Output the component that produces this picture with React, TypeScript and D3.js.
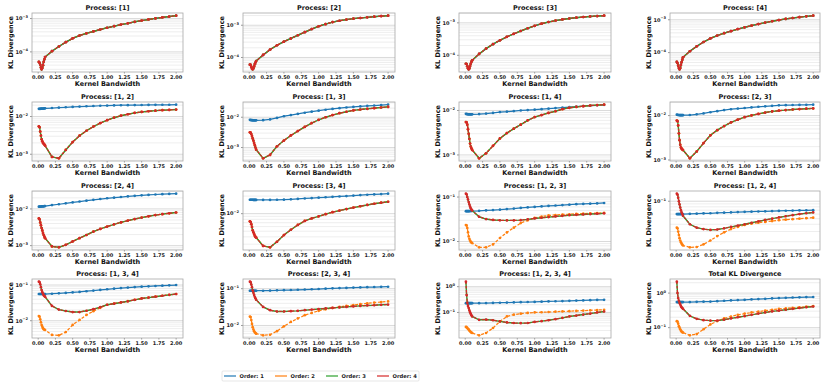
import React, { useEffect, useRef } from "react";
import * as d3 from "d3";

// kernel bandwidths used on every panel
const bandwidths = [0.01, 0.02, 0.03, 0.04, 0.05, 0.06, 0.07, 0.08, 0.09, 0.1, 0.2, 0.3, 0.4, 0.5, 0.6, 0.7, 0.8, 0.9, 1.0, 1.1, 1.2, 1.3, 1.4, 1.5, 1.6, 1.7, 1.8, 1.9, 2.0];
const xTicks = [0, 0.25, 0.5, 0.75, 1.0, 1.25, 1.5, 1.75, 2.0];

const orderLabels = ["Order: 1", "Order: 2", "Order: 3", "Order: 4"];
const orderColors = ["#1f77b4", "#ff7f0e", "#2ca02c", "#d62728"];
const orderDash = [null, "3,1.6", null, "2.6,1.6"];

const panelTitles = [
  "Process: [1]", "Process: [2]", "Process: [3]", "Process: [4]",
  "Process: [1, 2]", "Process: [1, 3]", "Process: [1, 4]", "Process: [2, 3]",
  "Process: [2, 4]", "Process: [3, 4]", "Process: [1, 2, 3]", "Process: [1, 2, 4]",
  "Process: [1, 3, 4]", "Process: [2, 3, 4]", "Process: [1, 2, 3, 4]", "Total KL Divergence",
];

// single processes (all orders coincide)
const klP1 = [5e-5, 4.7e-5, 4.1e-5, 3.4e-5, 3e-5, 3.3e-5, 4e-5, 5e-5, 6e-5, 7e-5, 1.05e-4, 1.45e-4, 1.95e-4, 2.55e-4, 3.1e-4, 3.6e-4, 4.1e-4, 4.7e-4, 5.3e-4, 5.9e-4, 6.6e-4, 7.2e-4, 8e-4, 8.7e-4, 9.4e-4, 1.01e-3, 1.08e-3, 1.15e-3, 1.22e-3];
const klP2 = [6e-5, 5.9e-5, 5.1e-5, 4.5e-5, 4.3e-5, 4.6e-5, 5.3e-5, 6.2e-5, 7e-5, 7.8e-5, 1.2e-4, 1.75e-4, 2.4e-4, 3.1e-4, 3.9e-4, 4.9e-4, 6.1e-4, 7.6e-4, 9.3e-4, 1.08e-3, 1.25e-3, 1.38e-3, 1.5e-3, 1.6e-3, 1.68e-3, 1.76e-3, 1.84e-3, 1.92e-3, 1.98e-3];
const klP3 = [5.5e-5, 5.4e-5, 4.6e-5, 4e-5, 3.7e-5, 4e-5, 4.7e-5, 5.5e-5, 6.3e-5, 7e-5, 1.1e-4, 1.6e-4, 2.2e-4, 2.9e-4, 3.7e-4, 4.6e-4, 5.6e-4, 6.8e-4, 8.1e-4, 9.4e-4, 1.06e-3, 1.17e-3, 1.27e-3, 1.36e-3, 1.44e-3, 1.51e-3, 1.57e-3, 1.62e-3, 1.66e-3];
const klP4 = [5.2e-5, 4.8e-5, 4e-5, 3.4e-5, 3.1e-5, 3.4e-5, 4.2e-5, 5.1e-5, 6.1e-5, 7.2e-5, 1.1e-4, 1.55e-4, 2.1e-4, 2.7e-4, 3.3e-4, 3.9e-4, 4.5e-4, 5.2e-4, 5.9e-4, 6.6e-4, 7.4e-4, 8.2e-4, 9e-4, 9.8e-4, 1.06e-3, 1.13e-3, 1.2e-3, 1.27e-3, 1.33e-3];

// pairs: order 1 and order 2+ (orders 2, 3, 4 coincide)
const klP12o1 = [1.6e-2, 1.6e-2, 1.6e-2, 1.61e-2, 1.61e-2, 1.62e-2, 1.62e-2, 1.63e-2, 1.64e-2, 1.65e-2, 1.68e-2, 1.72e-2, 1.76e-2, 1.8e-2, 1.84e-2, 1.87e-2, 1.9e-2, 1.93e-2, 1.95e-2, 1.97e-2, 1.99e-2, 2e-2, 2.01e-2, 2.02e-2, 2.03e-2, 2.04e-2, 2.05e-2, 2.05e-2, 2.06e-2];
const klP12o2 = [5.5e-3, 5.2e-3, 4e-3, 3.1e-3, 2.5e-3, 2.2e-3, 2e-3, 1.9e-3, 1.8e-3, 1.7e-3, 8.5e-4, 7.8e-4, 1.3e-3, 2.1e-3, 3.1e-3, 4.2e-3, 5.4e-3, 6.7e-3, 8e-3, 9.3e-3, 1.05e-2, 1.15e-2, 1.25e-2, 1.32e-2, 1.38e-2, 1.43e-2, 1.47e-2, 1.5e-2, 1.53e-2];
const klP13o1 = [8.2e-3, 8.1e-3, 8e-3, 8e-3, 7.9e-3, 7.9e-3, 7.9e-3, 7.9e-3, 7.9e-3, 7.9e-3, 8e-3, 8.5e-3, 9.5e-3, 1.08e-2, 1.18e-2, 1.29e-2, 1.41e-2, 1.53e-2, 1.65e-2, 1.77e-2, 1.89e-2, 2e-2, 2.1e-2, 2.2e-2, 2.28e-2, 2.36e-2, 2.44e-2, 2.52e-2, 2.6e-2];
const klP13o2 = [3.2e-3, 3.1e-3, 2.8e-3, 2.4e-3, 2e-3, 1.7e-3, 1.4e-3, 1.2e-3, 1e-3, 8.5e-4, 4.4e-4, 5.7e-4, 1.1e-3, 1.7e-3, 2.5e-3, 3.5e-3, 4.8e-3, 6.4e-3, 8.2e-3, 1e-2, 1.18e-2, 1.36e-2, 1.52e-2, 1.68e-2, 1.8e-2, 1.9e-2, 2e-2, 2.1e-2, 2.2e-2];
const klP14o1 = [8.4e-3, 8.3e-3, 8.3e-3, 8.2e-3, 8.2e-3, 8.2e-3, 8.2e-3, 8.2e-3, 8.2e-3, 8.2e-3, 8.3e-3, 8.5e-3, 8.8e-3, 9.2e-3, 9.4e-3, 9.7e-3, 1e-2, 1.02e-2, 1.04e-2, 1.07e-2, 1.1e-2, 1.13e-2, 1.16e-2, 1.19e-2, 1.22e-2, 1.25e-2, 1.28e-2, 1.31e-2, 1.34e-2];
const klP14o2 = [5.5e-3, 5.4e-3, 4.8e-3, 3.8e-3, 3e-3, 2.3e-3, 1.8e-3, 1.55e-3, 1.4e-3, 1.3e-3, 8.4e-4, 1.09e-3, 1.6e-3, 2.35e-3, 3.1e-3, 3.9e-3, 4.8e-3, 6e-3, 7.1e-3, 7.9e-3, 8.8e-3, 9.6e-3, 1.07e-2, 1.15e-2, 1.2e-2, 1.25e-2, 1.29e-2, 1.32e-2, 1.35e-2];
const klP23o1 = [1.05e-2, 1.04e-2, 1.03e-2, 1.03e-2, 1.02e-2, 1.02e-2, 1.02e-2, 1.02e-2, 1.02e-2, 1.02e-2, 1.03e-2, 1.07e-2, 1.12e-2, 1.19e-2, 1.26e-2, 1.33e-2, 1.39e-2, 1.44e-2, 1.48e-2, 1.53e-2, 1.58e-2, 1.62e-2, 1.66e-2, 1.7e-2, 1.72e-2, 1.73e-2, 1.74e-2, 1.75e-2, 1.76e-2];
const klP23o2 = [7.7e-3, 7.5e-3, 6e-3, 4e-3, 2.8e-3, 2.2e-3, 1.9e-3, 1.8e-3, 1.72e-3, 1.67e-3, 1.09e-3, 1.55e-3, 2.4e-3, 3.6e-3, 4.7e-3, 5.8e-3, 7e-3, 8.1e-3, 9.2e-3, 1.01e-2, 1.09e-2, 1.17e-2, 1.24e-2, 1.29e-2, 1.33e-2, 1.37e-2, 1.4e-2, 1.43e-2, 1.45e-2];
const klP24o1 = [1.15e-2, 1.15e-2, 1.16e-2, 1.16e-2, 1.17e-2, 1.17e-2, 1.18e-2, 1.18e-2, 1.19e-2, 1.2e-2, 1.27e-2, 1.34e-2, 1.42e-2, 1.5e-2, 1.59e-2, 1.68e-2, 1.77e-2, 1.86e-2, 1.95e-2, 2.03e-2, 2.11e-2, 2.19e-2, 2.27e-2, 2.35e-2, 2.41e-2, 2.47e-2, 2.52e-2, 2.56e-2, 2.6e-2];
const klP24o2 = [5.5e-3, 5.2e-3, 4.3e-3, 3.6e-3, 3e-3, 2.6e-3, 2.2e-3, 1.95e-3, 1.75e-3, 1.6e-3, 9.5e-4, 9e-4, 1.05e-3, 1.3e-3, 1.6e-3, 1.95e-3, 2.4e-3, 2.85e-3, 3.3e-3, 3.8e-3, 4.3e-3, 4.8e-3, 5.3e-3, 5.8e-3, 6.3e-3, 6.8e-3, 7.2e-3, 7.6e-3, 8e-3];
const klP34o1 = [1.73e-2, 1.73e-2, 1.73e-2, 1.73e-2, 1.73e-2, 1.72e-2, 1.72e-2, 1.72e-2, 1.72e-2, 1.72e-2, 1.72e-2, 1.72e-2, 1.73e-2, 1.74e-2, 1.76e-2, 1.79e-2, 1.82e-2, 1.85e-2, 1.88e-2, 1.91e-2, 1.94e-2, 1.97e-2, 2e-2, 2.04e-2, 2.08e-2, 2.11e-2, 2.14e-2, 2.17e-2, 2.2e-2];
const klP34o2 = [7.4e-3, 7.2e-3, 6.6e-3, 5.9e-3, 5.2e-3, 4.8e-3, 4.5e-3, 4.2e-3, 4e-3, 3.9e-3, 2.8e-3, 2.65e-3, 3.3e-3, 4.3e-3, 5.3e-3, 6.4e-3, 7.5e-3, 8.3e-3, 9e-3, 9.8e-3, 1.06e-2, 1.13e-2, 1.2e-2, 1.27e-2, 1.34e-2, 1.41e-2, 1.48e-2, 1.54e-2, 1.6e-2];

// triples: order 1, order 2, order 3+ (orders 3 and 4 coincide)
const klP123o1 = [4.8e-2, 4.8e-2, 4.8e-2, 4.8e-2, 4.8e-2, 4.8e-2, 4.85e-2, 4.85e-2, 4.85e-2, 4.85e-2, 4.9e-2, 5e-2, 5.1e-2, 5.2e-2, 5.35e-2, 5.5e-2, 5.7e-2, 5.85e-2, 6e-2, 6.15e-2, 6.3e-2, 6.45e-2, 6.6e-2, 6.75e-2, 6.9e-2, 7e-2, 7.1e-2, 7.2e-2, 7.35e-2];
const klP123o2 = [2.35e-2, 2.3e-2, 2e-2, 1.6e-2, 1.3e-2, 1.15e-2, 1.05e-2, 9.8e-3, 9.5e-3, 9.2e-3, 7.4e-3, 7.4e-3, 8.6e-3, 1.2e-2, 1.6e-2, 2.05e-2, 2.6e-2, 3e-2, 3.4e-2, 3.65e-2, 3.85e-2, 3.95e-2, 4.05e-2, 4.1e-2, 4.2e-2, 4.25e-2, 4.3e-2, 4.35e-2, 4.4e-2];
const klP123o3 = [1.19e-1, 1.15e-1, 1e-1, 8.8e-2, 7.7e-2, 6.8e-2, 6.1e-2, 5.6e-2, 5.2e-2, 5e-2, 3.6e-2, 3.2e-2, 3.05e-2, 3e-2, 2.98e-2, 2.98e-2, 3.02e-2, 3.15e-2, 3.3e-2, 3.42e-2, 3.54e-2, 3.66e-2, 3.78e-2, 3.9e-2, 3.98e-2, 4.06e-2, 4.14e-2, 4.22e-2, 4.3e-2];
const klP124o1 = [6e-2, 6e-2, 6e-2, 6e-2, 6e-2, 6e-2, 6e-2, 6e-2, 6e-2, 6e-2, 6.05e-2, 6.1e-2, 6.15e-2, 6.2e-2, 6.3e-2, 6.35e-2, 6.4e-2, 6.5e-2, 6.55e-2, 6.6e-2, 6.65e-2, 6.7e-2, 6.75e-2, 6.8e-2, 6.85e-2, 6.9e-2, 6.93e-2, 6.97e-2, 7e-2];
const klP124o2 = [3.5e-2, 3.4e-2, 3e-2, 2.6e-2, 2.3e-2, 2.1e-2, 1.95e-2, 1.85e-2, 1.78e-2, 1.72e-2, 1.6e-2, 1.62e-2, 1.8e-2, 2.1e-2, 2.5e-2, 2.9e-2, 3.3e-2, 3.6e-2, 3.9e-2, 4.1e-2, 4.25e-2, 4.4e-2, 4.55e-2, 4.7e-2, 4.8e-2, 4.9e-2, 5e-2, 5.1e-2, 5.2e-2];
const klP124o3 = [1.35e-1, 1.3e-1, 1.15e-1, 1e-1, 8.8e-2, 7.8e-2, 7e-2, 6.4e-2, 6e-2, 5.6e-2, 4e-2, 3.5e-2, 3.3e-2, 3.2e-2, 3.25e-2, 3.4e-2, 3.6e-2, 3.8e-2, 4e-2, 4.25e-2, 4.5e-2, 4.75e-2, 5e-2, 5.25e-2, 5.5e-2, 5.75e-2, 6e-2, 6.2e-2, 6.4e-2];
const klP134o1 = [5.6e-2, 5.6e-2, 5.6e-2, 5.6e-2, 5.6e-2, 5.6e-2, 5.6e-2, 5.6e-2, 5.6e-2, 5.6e-2, 5.7e-2, 5.85e-2, 6e-2, 6.2e-2, 6.4e-2, 6.7e-2, 7e-2, 7.3e-2, 7.6e-2, 7.9e-2, 8.2e-2, 8.5e-2, 8.75e-2, 9e-2, 9.2e-2, 9.4e-2, 9.6e-2, 9.8e-2, 1e-1];
const klP134o2 = [1.35e-2, 1.3e-2, 1.1e-2, 9e-3, 7.6e-3, 6.8e-3, 6.2e-3, 5.8e-3, 5.6e-3, 5.5e-3, 4e-3, 3.9e-3, 4.8e-3, 7.6e-3, 1.05e-2, 1.45e-2, 1.85e-2, 2.3e-2, 2.8e-2, 3.02e-2, 3.27e-2, 3.52e-2, 3.87e-2, 4.2e-2, 4.45e-2, 4.7e-2, 5e-2, 5.3e-2, 5.6e-2];
const klP134o3 = [1.24e-1, 1.2e-1, 1.05e-1, 8.7e-2, 7.2e-2, 6.3e-2, 5.7e-2, 5.2e-2, 4.9e-2, 4.7e-2, 2.6e-2, 2.05e-2, 1.87e-2, 1.75e-2, 1.75e-2, 1.9e-2, 2.1e-2, 2.4e-2, 2.8e-2, 3e-2, 3.25e-2, 3.5e-2, 3.85e-2, 4.2e-2, 4.45e-2, 4.7e-2, 5e-2, 5.3e-2, 5.6e-2];
const klP234o1 = [8.8e-2, 8.8e-2, 8.8e-2, 8.8e-2, 8.8e-2, 8.8e-2, 8.8e-2, 8.8e-2, 8.8e-2, 8.8e-2, 8.8e-2, 8.9e-2, 9e-2, 9.1e-2, 9.2e-2, 9.35e-2, 9.5e-2, 9.65e-2, 9.8e-2, 1e-1, 1.02e-1, 1.04e-1, 1.05e-1, 1.07e-1, 1.08e-1, 1.1e-1, 1.11e-1, 1.12e-1, 1.13e-1];
const klP234o2 = [1.75e-2, 1.7e-2, 1.4e-2, 1.1e-2, 9e-3, 7.8e-3, 7e-3, 6.5e-3, 6.2e-3, 6e-3, 5.4e-3, 5.6e-3, 7e-3, 9.5e-3, 1.25e-2, 1.55e-2, 1.9e-2, 2.2e-2, 2.5e-2, 2.75e-2, 3e-2, 3.2e-2, 3.4e-2, 3.6e-2, 3.8e-2, 4e-2, 4.2e-2, 4.35e-2, 4.5e-2];
const klP234o3 = [1.55e-1, 1.5e-1, 1.3e-1, 1.1e-1, 9e-2, 7.8e-2, 6.8e-2, 6e-2, 5.5e-2, 5e-2, 3.2e-2, 2.6e-2, 2.4e-2, 2.4e-2, 2.45e-2, 2.5e-2, 2.6e-2, 2.7e-2, 2.8e-2, 2.9e-2, 3e-2, 3.1e-2, 3.2e-2, 3.3e-2, 3.4e-2, 3.5e-2, 3.55e-2, 3.65e-2, 3.7e-2];

// all four processes and the total
const klP1234o1 = [2.3e-1, 2.3e-1, 2.3e-1, 2.3e-1, 2.3e-1, 2.3e-1, 2.3e-1, 2.3e-1, 2.3e-1, 2.3e-1, 2.3e-1, 2.32e-1, 2.35e-1, 2.38e-1, 2.42e-1, 2.46e-1, 2.5e-1, 2.54e-1, 2.57e-1, 2.62e-1, 2.67e-1, 2.72e-1, 2.77e-1, 2.82e-1, 2.88e-1, 2.94e-1, 3e-1, 3.05e-1, 3.1e-1];
const klP1234o2 = [2.75e-2, 2.7e-2, 2.5e-2, 2.3e-2, 2.2e-2, 2e-2, 1.85e-2, 1.75e-2, 1.65e-2, 1.6e-2, 1.3e-2, 1.6e-2, 2.5e-2, 4.5e-2, 7e-2, 8.2e-2, 9e-2, 9.6e-2, 1e-1, 1.02e-1, 1.04e-1, 1.07e-1, 1.1e-1, 1.12e-1, 1.15e-1, 1.18e-1, 1.21e-1, 1.24e-1, 1.27e-1];
const klP1234o3 = [1.56, 4.8e-1, 2.4e-1, 1.8e-1, 1.48e-1, 1.2e-1, 1e-1, 8.8e-2, 7.8e-2, 7e-2, 5.2e-2, 5.3e-2, 5e-2, 4.5e-2, 4.1e-2, 3.9e-2, 3.85e-2, 3.9e-2, 4.3e-2, 4.6e-2, 5e-2, 5.5e-2, 6.2e-2, 7e-2, 7.6e-2, 8.3e-2, 9e-2, 1e-1, 1.09e-1];
const klTotalO1 = [0.55, 0.55, 0.55, 0.55, 0.55, 0.55, 0.55, 0.55, 0.55, 0.55, 0.55, 0.56, 0.565, 0.57, 0.585, 0.6, 0.615, 0.63, 0.64, 0.655, 0.67, 0.685, 0.7, 0.72, 0.73, 0.745, 0.755, 0.765, 0.77];
const klTotalO2 = [0.154, 0.15, 0.13, 0.11, 0.1, 0.09, 0.082, 0.077, 0.074, 0.072, 0.06, 0.065, 0.09, 0.124, 0.155, 0.185, 0.21, 0.235, 0.255, 0.275, 0.29, 0.31, 0.33, 0.35, 0.36, 0.375, 0.39, 0.405, 0.42];
const klTotalO3 = [2.14, 1.0, 0.72, 0.6, 0.52, 0.47, 0.42, 0.39, 0.37, 0.35, 0.22, 0.18, 0.165, 0.16, 0.16, 0.17, 0.185, 0.2, 0.215, 0.235, 0.255, 0.275, 0.295, 0.31, 0.33, 0.35, 0.37, 0.39, 0.41];

// one row per panel: [order 1, order 2, order 3, order 4]
const panelSeries = [
  [klP1, klP1, klP1, klP1],
  [klP2, klP2, klP2, klP2],
  [klP3, klP3, klP3, klP3],
  [klP4, klP4, klP4, klP4],
  [klP12o1, klP12o2, klP12o2, klP12o2],
  [klP13o1, klP13o2, klP13o2, klP13o2],
  [klP14o1, klP14o2, klP14o2, klP14o2],
  [klP23o1, klP23o2, klP23o2, klP23o2],
  [klP24o1, klP24o2, klP24o2, klP24o2],
  [klP34o1, klP34o2, klP34o2, klP34o2],
  [klP123o1, klP123o2, klP123o3, klP123o3],
  [klP124o1, klP124o2, klP124o3, klP124o3],
  [klP134o1, klP134o2, klP134o3, klP134o3],
  [klP234o1, klP234o2, klP234o3, klP234o3],
  [klP1234o1, klP1234o2, klP1234o3, klP1234o3],
  [klTotalO1, klTotalO2, klTotalO3, klTotalO3],
];

// grid of axes (tight layout)
const colLeft = [32, 243, 459, 670];
const colWidth = [151, 152, 152, 150];
const rowTop = [13, 102, 191, 279];
const rowHeight = 59;

const FONT = "'DejaVu Sans', sans-serif";

function App() {
  const ref = useRef<SVGSVGElement>(null);

  useEffect(() => {
    const svg = d3.select(ref.current);
    svg.selectAll("*").remove();

    const xMin = d3.min(bandwidths) as number;
    const xMax = d3.max(bandwidths) as number;
    const xPad = (xMax - xMin) * 0.05; // matplotlib default margins

    panelSeries.forEach((series, i) => {
      const row = Math.floor(i / 4);
      const col = i % 4;
      const w = colWidth[col];
      const h = rowHeight;

      const all = series.flat();
      const lo = Math.log10(d3.min(all) as number);
      const hi = Math.log10(d3.max(all) as number);
      const pad = (hi - lo) * 0.05;

      const x = d3.scaleLinear().domain([xMin - xPad, xMax + xPad]).range([0, w]);
      const y = d3.scaleLog().domain([10 ** (lo - pad), 10 ** (hi + pad)]).range([h, 0]);

      const g = svg.append("g").attr("transform", `translate(${colLeft[col]},${rowTop[row]})`);

      // log ticks: decades are majors, 2..9 are minors
      const [d0, d1] = y.domain();
      const ticks: { v: number; major: boolean; e: number }[] = [];
      for (let e = Math.floor(Math.log10(d0)); e <= Math.ceil(Math.log10(d1)); e++) {
        for (let k = 1; k < 10; k++) {
          const v = k * 10 ** e;
          if (v >= d0 && v <= d1) ticks.push({ v, major: k === 1, e });
        }
      }

      g.selectAll("line.grid")
        .data(ticks)
        .join("line")
        .attr("class", "grid")
        .attr("x1", 0)
        .attr("x2", w)
        .attr("y1", (d) => y(d.v))
        .attr("y2", (d) => y(d.v))
        .attr("stroke", (d) => (d.major ? "#d0d0d0" : "#e2e2e2"))
        .attr("stroke-width", (d) => (d.major ? 0.8 : 0.6));

      // y tick labels like 10^-3
      const yl = g.selectAll("text.ytick")
        .data(ticks.filter((d) => d.major))
        .join("text")
        .attr("class", "ytick")
        .attr("x", -4)
        .attr("y", (d) => y(d.v) + 1.8)
        .attr("text-anchor", "end")
        .attr("font-family", FONT)
        .attr("font-weight", "bold")
        .attr("font-size", 5)
        .attr("fill", "#222");
      yl.append("tspan").text("10");
      yl.append("tspan")
        .attr("dy", -2.2)
        .attr("font-size", 3.6)
        .text((d) => (d.e < 0 ? "−" : "") + Math.abs(d.e));

      g.selectAll("line.ytickmark")
        .data(ticks.filter((d) => d.major))
        .join("line")
        .attr("class", "ytickmark")
        .attr("x1", -2)
        .attr("x2", 0)
        .attr("y1", (d) => y(d.v))
        .attr("y2", (d) => y(d.v))
        .attr("stroke", "#555")
        .attr("stroke-width", 0.6);

      // x tick labels
      g.selectAll("text.xtick")
        .data(xTicks)
        .join("text")
        .attr("class", "xtick")
        .attr("x", (d) => x(d))
        .attr("y", h + 6.5)
        .attr("text-anchor", "middle")
        .attr("font-family", FONT)
        .attr("font-weight", "bold")
        .attr("font-size", 5)
        .attr("fill", "#222")
        .text((d) => d3.format(".2f")(d));

      g.selectAll("line.xtickmark")
        .data(xTicks)
        .join("line")
        .attr("class", "xtickmark")
        .attr("x1", (d) => x(d))
        .attr("x2", (d) => x(d))
        .attr("y1", h)
        .attr("y2", h + 1.5)
        .attr("stroke", "#555")
        .attr("stroke-width", 0.6);

      // series, order 1 first so order 4 ends on top
      const line = d3.line<number>()
        .x((_, j) => x(bandwidths[j]))
        .y((d) => y(d));

      series.forEach((vals, k) => {
        g.append("path")
          .datum(vals)
          .attr("d", line)
          .attr("fill", "none")
          .attr("stroke", orderColors[k])
          .attr("stroke-width", k === 2 ? 1.4 : 1.25)
          .attr("stroke-dasharray", orderDash[k]);
        g.append("g")
          .selectAll("circle")
          .data(vals)
          .join("circle")
          .attr("cx", (_, j) => x(bandwidths[j]))
          .attr("cy", (d) => y(d))
          .attr("r", k === 2 ? 0.9 : 1.35)
          .attr("fill", orderColors[k]);
      });

      // frame
      g.append("rect")
        .attr("width", w)
        .attr("height", h)
        .attr("fill", "none")
        .attr("stroke", "#a8a8a8")
        .attr("stroke-width", 0.8);

      // title and axis labels
      g.append("text")
        .attr("x", w / 2)
        .attr("y", -3.4)
        .attr("text-anchor", "middle")
        .attr("font-family", FONT)
        .attr("font-weight", "bold")
        .attr("font-size", 6.5)
        .attr("fill", "#111")
        .text(panelTitles[i]);

      g.append("text")
        .attr("x", w / 2)
        .attr("y", h + 13.6)
        .attr("text-anchor", "middle")
        .attr("font-family", FONT)
        .attr("font-weight", "bold")
        .attr("font-size", 6.5)
        .attr("fill", "#111")
        .text("Kernel Bandwidth");

      g.append("text")
        .attr("transform", `translate(-19.5,${h / 2}) rotate(-90)`)
        .attr("text-anchor", "middle")
        .attr("font-family", FONT)
        .attr("font-weight", "bold")
        .attr("font-size", 6.5)
        .attr("fill", "#111")
        .text("KL Divergence");
    });

    // legend below the grid
    const lg = svg.append("g").attr("transform", "translate(222,371)");
    lg.append("rect")
      .attr("width", 197)
      .attr("height", 10)
      .attr("rx", 1)
      .attr("fill", "white")
      .attr("stroke", "#d6d6d6")
      .attr("stroke-width", 0.6);
    const item = lg.selectAll("g.item")
      .data(orderLabels)
      .join("g")
      .attr("class", "item")
      .attr("transform", (_, k) => `translate(${2 + k * 51},5)`);
    item.append("line")
      .attr("x1", 0)
      .attr("x2", 12)
      .attr("stroke", (_, k) => orderColors[k])
      .attr("stroke-width", 1.2);
    item.append("text")
      .attr("x", 15.5)
      .attr("y", 1.8)
      .attr("font-family", FONT)
      .attr("font-weight", "bold")
      .attr("font-size", 5.2)
      .attr("fill", "#222")
      .text((d) => d);
  }, []);

  return (
    <svg
      ref={ref}
      width={830}
      height={389}
      style={{ position: "absolute", left: 0, top: 0, background: "white" }}
    />
  );
}

export default App;
